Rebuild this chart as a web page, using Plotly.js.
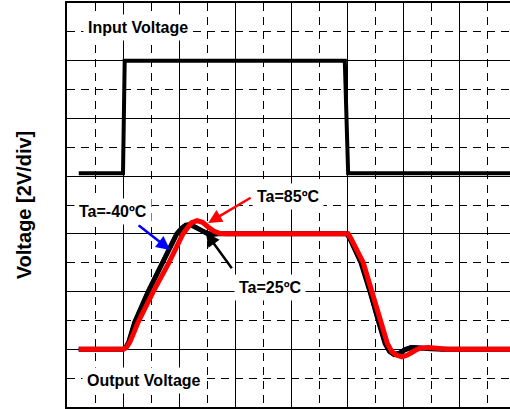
<!DOCTYPE html>
<html>
<head>
<meta charset="utf-8">
<script src="https://cdn.plot.ly/plotly-3.0.1.min.js"></script>
<style>html,body{margin:0;padding:0;background:#fff;}#chart{width:510px;height:409px;}</style>
</head>
<body>
<div id="chart"></div>
<script>
// time in divisions, voltage in divisions (2V/div)
var inputX = [0.21, 1.0, 1.03, 4.96, 5.02, 7.91];
var inputY = [4.05, 4.05, 6.0, 6.0, 4.05, 4.05];

var outM40X = [0.21, 1.0, 1.05, 1.1, 1.15, 1.21, 1.45, 1.71, 1.96, 2.05, 2.12, 2.2, 2.3, 2.4, 2.5, 2.6, 2.7, 5.0, 5.05, 5.25, 5.41, 5.55, 5.68, 5.76, 5.84, 5.94, 6.03, 6.15, 6.3, 6.5, 6.7, 7.91];
var outM40Y = [1.0, 1.0, 1.03, 1.12, 1.28, 1.47, 2.0, 2.5, 3.0, 3.1, 3.15, 3.16, 3.12, 3.06, 3.01, 2.99, 3.0, 3.0, 2.92, 2.5, 2.0, 1.5, 1.1, 0.96, 0.92, 0.94, 1.0, 1.04, 1.03, 1.01, 1.0, 1.0];

var out25X = [0.21, 1.0, 1.05, 1.1, 1.15, 1.21, 1.45, 1.71, 1.96, 2.05, 2.12, 2.2, 2.3, 2.4, 2.5, 2.6, 2.7, 5.0, 5.05, 5.25, 5.41, 5.55, 5.68, 5.76, 5.84, 5.94, 6.03, 6.15, 6.3, 6.5, 6.7, 7.91];
var out25Y = [1.0, 1.0, 1.03, 1.12, 1.28, 1.47, 2.0, 2.5, 3.0, 3.1, 3.15, 3.16, 3.12, 3.06, 3.01, 2.99, 3.0, 3.0, 2.92, 2.5, 2.0, 1.5, 1.1, 0.96, 0.91, 0.93, 0.99, 1.03, 1.03, 1.01, 1.0, 1.0];

var out85X = [0.21, 1.0, 1.06, 1.12, 1.19, 1.27, 1.54, 1.82, 2.07, 2.15, 2.22, 2.32, 2.42, 2.52, 2.62, 2.72, 2.85, 5.02, 5.07, 5.29, 5.45, 5.59, 5.72, 5.8, 5.88, 5.98, 6.08, 6.2, 6.3, 6.45, 6.6, 6.8, 7.91];
var out85Y = [1.0, 1.0, 1.03, 1.12, 1.28, 1.47, 2.0, 2.5, 3.0, 3.12, 3.19, 3.23, 3.2, 3.12, 3.05, 3.01, 3.0, 3.0, 2.92, 2.5, 2.0, 1.5, 1.1, 0.96, 0.9, 0.87, 0.9, 0.97, 1.02, 1.03, 1.01, 1.0, 1.0];

var labelFont = {family: 'Liberation Sans, Arial, sans-serif', size: 16, color: '#000', weight: 'bold'};

var traces = [
  {x: inputX, y: inputY, mode: 'lines', line: {color: '#000', width: 4}, name: 'Input Voltage'},
  {x: outM40X, y: outM40Y, mode: 'lines', line: {color: '#0000ff', width: 4}, name: 'Ta=-40ºC'},
  {x: out25X, y: out25Y, mode: 'lines', line: {color: '#000', width: 5}, name: 'Ta=25ºC'},
  {x: out85X, y: out85Y, mode: 'lines', line: {color: '#ff0000', width: 5}, name: 'Ta=85ºC'}
];

function textAnn(txt, x, y) {
  return {x: x, y: y, xref: 'x', yref: 'y', text: txt, showarrow: false,
    font: labelFont, bgcolor: '#fff', borderpad: 4, xanchor: 'center', yanchor: 'middle'};
}
function arrowAnn(x, y, ax, ay, color) {
  return {x: x, y: y, xref: 'x', yref: 'y', text: '', showarrow: true,
    ax: ax, ay: ay, arrowcolor: color, arrowwidth: 2.5, arrowhead: 2, arrowsize: 1.1, standoff: 0};
}

var annotations = [
  textAnn('Input Voltage', 1.27, 6.58),
  textAnn('Output Voltage', 1.38, 0.46),
  arrowAnn(1.84, 2.72, -33, -26, '#0000ff'),
  arrowAnn(2.52, 3.19, 44, -26, '#ff0000'),
  arrowAnn(2.48, 3.02, 27, 37, '#000'),
  textAnn('Ta=-40ºC', 0.83, 3.385),
  textAnn('Ta=85ºC', 3.94, 3.64),
  textAnn('Ta=25ºC', 3.625, 2.07)
];

var layout = {
  width: 510, height: 409,
  margin: {l: 67, r: 0, t: 3, b: 2},
  paper_bgcolor: '#fff', plot_bgcolor: '#fff',
  showlegend: false,
  xaxis: {
    range: [0, 7.91], dtick: 1, tick0: 0, showgrid: true, gridcolor: '#000', gridwidth: 1,
    zeroline: false, showticklabels: false, ticks: '',
    showline: true, linecolor: '#000', linewidth: 2, mirror: true,
    minor: {dtick: 0.5, tick0: 0, showgrid: true, gridcolor: '#000', gridwidth: 1, griddash: '8px,6px'}
  },
  yaxis: {
    range: [0, 7], dtick: 1, tick0: 0, showgrid: true, gridcolor: '#000', gridwidth: 1,
    zeroline: false, showticklabels: false, ticks: '',
    showline: true, linecolor: '#000', linewidth: 2,
    minor: {dtick: 0.5, tick0: 0, showgrid: true, gridcolor: '#000', gridwidth: 1, griddash: '8px,6px'},
    title: {text: 'Voltage [2V/div]', standoff: 28,
      font: {family: 'Liberation Sans, Arial, sans-serif', size: 20, color: '#000', weight: 'bold'}}
  },
  annotations: annotations
};

Plotly.newPlot('chart', traces, layout, {staticPlot: true, displayModeBar: false});
</script>
</body>
</html>
